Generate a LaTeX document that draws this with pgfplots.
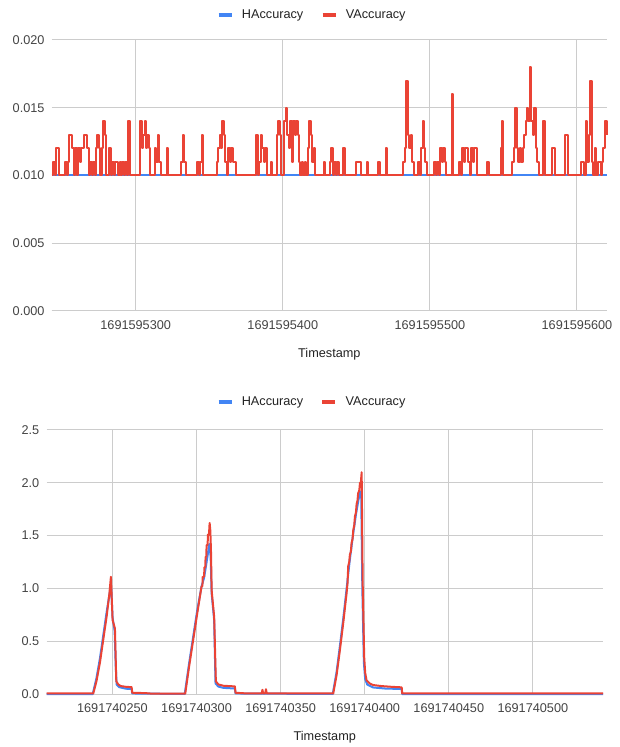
\documentclass[border=0pt]{standalone}
\usepackage{fontspec}
\setmainfont{Liberation Sans}
\usepackage{pgfplots}
\pgfplotsset{compat=1.18}
\definecolor{hblue}{HTML}{4285F4}
\definecolor{vred}{HTML}{EA4335}
\definecolor{gridc}{HTML}{CCCCCC}
\definecolor{tickc}{HTML}{444444}
\definecolor{titlec}{HTML}{222222}
\newcommand{\cf}{\fontsize{12.7}{15}\selectfont}
\pgfplotsset{gchart/.style={
 scale only axis,
 clip=false,
 axis line style={draw=none},
 major tick length=0pt,
 xmajorgrids, ymajorgrids,
 major grid style={draw=gridc, line width=1pt},
 tick label style={font=\cf, text=tickc},
 scaled y ticks=false,
 /pgf/number format/assume math mode=true,
 yticklabel style={anchor=east, inner sep=0pt, xshift=-7pt},
 xticklabel style={anchor=north, inner sep=0pt, yshift=-9pt},
 xlabel={Timestamp},
 xlabel style={font=\cf, text=titlec, at={(axis description cs:0.5,0)}, anchor=center, yshift=-43pt},
 legend columns=2,
 legend style={draw=none, fill=none, font=\cf, text=titlec, anchor=center, inner sep=0pt, nodes={inner sep=0pt}, column sep=8pt, /tikz/every even column/.append style={column sep=17pt}},
 legend image code/.code={\draw[##1, line width=4.5pt, line cap=butt] (0pt,0pt) -- (13pt,0pt);},
 extra y ticks={0},
 extra y tick labels={},
 extra y tick style={grid style={draw=black!75, line width=1pt}},
}}
\begin{document}
\begin{tikzpicture}
\useasboundingbox (0,0) rectangle (619pt,747pt);
% ---------------- top chart ----------------
\begin{axis}[gchart,
 at={(51.7pt,436pt)}, anchor=south west,
 width=555.3pt, height=271pt,
 xmin=242.9, xmax=620.4, ymin=0, ymax=0.02,
 xtick={300,400,500,600},
 xticklabels={1691595300,1691595400,1691595500,1691595600},
 ytick={0,0.005,0.01,0.015,0.02},
 yticklabel style={/pgf/number format/fixed, /pgf/number format/fixed zerofill, /pgf/number format/precision=3},
 legend style={at={(axis description cs:0.467,1.092)}},
]
\addplot[hblue, line width=2pt] coordinates {(242.9,0.010) (620.4,0.010)};
\addlegendentry{HAccuracy}
\addplot[vred, line width=2pt, line join=round, const plot] coordinates {
(242.9,0.010) (243.5,0.010) (244,0.011) (245,0.010) (246,0.012) (247,0.012) (248,0.010) (251,0.010) (252,0.011) (253,0.010) (254,0.011) (255,0.013) (256,0.013) (257,0.012) (258,0.010) (259,0.012) (260,0.010) (261,0.012) (262,0.011) (263,0.012) (264,0.012) (265,0.013) (266,0.013) (267,0.012) (268,0.010) (269,0.011) (270,0.010) (271,0.011) (272,0.010) (273,0.012) (274,0.013) (275,0.012) (276,0.010) (277,0.012) (278,0.014) (279,0.013) (280,0.010) (281,0.010) (282,0.012) (283,0.010) (284,0.011) (285,0.010) (286,0.011) (287,0.011) (288,0.010) (289,0.011) (290,0.010) (291,0.011) (292,0.010) (293,0.011) (294,0.010) (295,0.014) (296,0.010) (302,0.010) (303,0.014) (304,0.012) (305,0.013) (306,0.014) (307,0.012) (308,0.013) (309,0.012) (310,0.010) (312,0.010) (313,0.012) (314,0.011) (315,0.013) (316,0.011) (317,0.010) (320,0.010) (321,0.012) (322,0.010) (330,0.010) (331,0.011) (332,0.013) (333,0.011) (334,0.010)
(341,0.010) (342,0.011) (343,0.010) (344,0.011) (345,0.013) (346,0.010) (354,0.010) (355,0.011) (356,0.012) (357,0.013) (358,0.012) (359,0.014) (360,0.013) (361,0.011) (362,0.010) (363,0.012) (364,0.011) (365,0.012) (366,0.011) (367,0.011) (368,0.010) (381,0.010) (382,0.013) (383,0.010) (384,0.011) (385,0.013) (386,0.012) (387,0.011) (388,0.012) (389,0.010) (391,0.010) (392,0.011) (393,0.010) (395,0.010) (396,0.013) (397,0.014) (398,0.013) (399,0.010) (401,0.014) (402,0.015) (403,0.013) (404,0.012) (405,0.014) (406,0.011) (407,0.014) (408,0.013) (409,0.014) (410,0.013) (411,0.011) (412,0.010) (413,0.011) (414,0.010) (415,0.011) (416,0.010) (417,0.012) (418,0.014) (419,0.013) (420,0.011) (421,0.012) (422,0.010)
(427,0.010) (428,0.011) (429,0.010) (431,0.010) (432,0.011) (433,0.012) (434,0.010) (435,0.011) (436,0.010) (437,0.011) (438,0.010) (440,0.010) (441,0.012) (442,0.010) (449,0.010) (450,0.011) (451,0.011) (452,0.011) (453,0.010) (456,0.010) (457,0.011) (458,0.010) (464,0.010) (465,0.011) (466,0.010) (469,0.010) (470,0.012) (471,0.010) (481,0.010) (482,0.011) (483,0.012) (484,0.017) (485,0.013) (486,0.012) (487,0.013) (488,0.011) (489,0.010) (491,0.010) (492,0.011) (493,0.010) (494,0.012) (495,0.014) (496,0.012) (497,0.011) (498,0.010) (502,0.010) (503,0.011) (504,0.010) (505,0.011) (506,0.010) (507,0.012) (508,0.011) (509,0.012) (510,0.011) (511,0.010) (514,0.010) (515,0.016) (516,0.010)
(519,0.010) (520,0.011) (521,0.010) (522,0.012) (523,0.011) (524,0.012) (525,0.012) (526,0.011) (527,0.010) (528,0.012) (529,0.011) (530,0.012) (531,0.012) (532,0.010) (538,0.010) (539,0.011) (540,0.010) (547,0.010) (548,0.012) (549,0.014) (550,0.010) (555,0.010) (556,0.011) (557,0.012) (558,0.015) (559,0.012) (560,0.011) (561,0.012) (562,0.011) (563,0.012) (564,0.013) (565,0.014) (566,0.015) (567,0.014) (568,0.018) (569,0.014) (570,0.013) (571,0.015) (572,0.012) (573,0.011) (574,0.010) (576,0.010) (577,0.014) (578,0.010) (582,0.010) (583,0.012) (584,0.012) (585,0.010) (591,0.010) (592,0.013) (593,0.013) (594,0.010) (602,0.010) (603,0.011) (604,0.011) (605,0.010) (606,0.014) (607,0.011) (608,0.013) (609,0.017) (610,0.011) (611,0.010) (612,0.012) (613,0.010) (614,0.011) (615,0.011) (616,0.010) (617,0.011) (618,0.012) (619,0.014) (620.4,0.013)
};
\addlegendentry{VAccuracy}
\end{axis}
% ---------------- bottom chart ----------------
\begin{axis}[gchart,
 at={(46.5pt,53pt)}, anchor=south west,
 width=556.5pt, height=264pt,
 xmin=210.8, xmax=541.7, ymin=0, ymax=2.5,
 xtick={250,300,350,400,450,500},
 xticklabels={1691740250,1691740300,1691740350,1691740400,1691740450,1691740500},
 ytick={0,0.5,1,1.5,2,2.5},
 yticklabel style={/pgf/number format/fixed, /pgf/number format/fixed zerofill, /pgf/number format/precision=1},
 legend style={at={(axis description cs:0.475,1.106)}},
]
\addplot[hblue, line width=2pt, line join=round] coordinates {
(210.8,0) (238.3,0) (240.5,0.15) (242.6,0.34) (244.6,0.56) (246.6,0.78) (248.6,0.98) (249.3,1.0) (250.1,0.72) (251.3,0.60) (252.0,0.25) (252.5,0.09) (254,0.065) (258,0.05) (261.4,0.048) (261.8,0.005) (293,0) (295.5,0.28) (298,0.54) (300.5,0.8) (303,1.02) (304.5,1.1) (305.5,1.2) (306.5,1.3) (307.6,1.42) (308.4,1.3) (309,0.95) (310.5,0.7) (311.3,0.1) (313,0.07) (316,0.058) (322.8,0.052) (323.2,0.005) (381,0) (383.3,0.21) (385.3,0.46) (387.3,0.72) (389.2,0.99) (391,1.25) (393,1.5) (395,1.72) (397,1.9) (397.9,1.92) (398.6,1.0) (399.5,0.3) (400.3,0.14) (401.5,0.09) (405,0.062) (412,0.052) (422,0.047) (422.3,0) (541.7,0)
};
\addlegendentry{HAccuracy}
\addplot[vred, line width=2pt, line join=round] coordinates {
(210.8,0.005) (238.6,0.005) (240.5,0.12) (242.6,0.3) (244.6,0.52) (246.6,0.74) (248.2,0.95) (249.1,1.11) (250.1,0.70) (251.5,0.62) (252.0,0.30) (252.3,0.12) (253.5,0.09) (255,0.075) (258,0.068) (261.4,0.065) (261.8,0.012) (270,0.008) (273,0.004) (293.3,0.004) (295.5,0.25) (298,0.51) (300.5,0.77) (303,1.02) (303.5,1.02) (303.7,1.11) (304.5,1.11) (304.7,1.2) (305.2,1.2) (305.4,1.3) (305.8,1.3) (306,1.41) (306.6,1.41) (306.8,1.51) (307.4,1.51) (307.8,1.62) (308.2,1.55) (308.6,1.36) (309,0.98) (310.5,0.73) (311.5,0.12) (313,0.09) (316,0.078) (322.8,0.072) (323.2,0.012) (330,0.005) (338.8,0.005) (339.2,0.04) (339.6,0.005) (340.8,0.005) (341.3,0.045) (341.8,0.005) (381.3,0.005) (383.3,0.18) (385.3,0.42) (387.3,0.68) (389.2,0.95) (389.8,1.05) (390.2,1.21) (390.8,1.25) (391.2,1.32) (391.8,1.35) (392.2,1.43) (392.8,1.47) (393.2,1.55) (393.8,1.6) (394.2,1.68) (394.8,1.72) (395.2,1.8) (395.7,1.83) (396.1,1.9) (396.8,1.93) (397.2,2.0) (397.7,2.0) (398.2,2.1) (398.8,1.05) (399.7,0.35) (400.3,0.2) (401.1,0.13) (403,0.1) (405,0.085) (410,0.075) (416,0.068) (422,0.063) (422.3,0.005) (541.7,0.005)
};
\addlegendentry{VAccuracy}
\end{axis}
\end{tikzpicture}
\end{document}
